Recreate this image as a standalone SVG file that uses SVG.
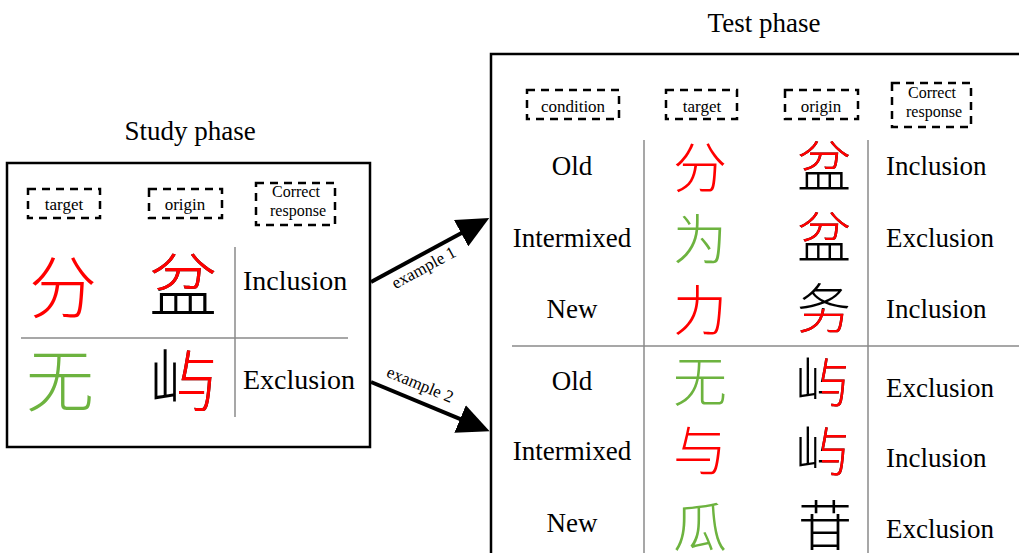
<svg xmlns="http://www.w3.org/2000/svg" width="1019" height="553" viewBox="0 0 1019 553">
<style>
.box{fill:#fff;stroke:#000;stroke-width:2.5}
.dash{fill:none;stroke:#000;stroke-width:2.5;stroke-dasharray:8 6}
.grid{stroke:#8a8a8a;stroke-width:1.5}
.t{font-family:"Liberation Serif","Times New Roman",serif;fill:#000}
.title{font-size:27px;text-anchor:middle}
.lab{font-size:17px;text-anchor:middle}
.cr{font-size:16px;text-anchor:middle}
.big{font-size:28px}
.mid{font-size:27px}
.ex{font-size:17px;text-anchor:middle}
.cjk{font-family:"Noto Sans CJK SC","Noto Sans CJK TC",sans-serif;font-weight:300;text-anchor:middle}
.s1{font-size:68px}
.s2{font-size:54px}
.red{fill:#ff0000}
.green{fill:#6db33f}
.blk{fill:#000}
.arrow{stroke:#000;stroke-width:4;fill:none}
</style>
<defs>
<marker id="ah" markerUnits="userSpaceOnUse" markerWidth="32" markerHeight="30" refX="1" refY="15" orient="auto">
<path d="M0,0 L32,15 L0,30 z" fill="#000"/>
</marker>
<clipPath id="c-pen-s"><rect x="140" y="230" width="90" height="60"/></clipPath>
<clipPath id="c-yu-s"><rect x="179" y="330" width="60" height="100"/></clipPath>
<clipPath id="c-pen-t1"><rect x="790" y="130" width="70" height="42"/></clipPath>
<clipPath id="c-pen-t2"><rect x="790" y="200" width="70" height="43"/></clipPath>
<clipPath id="c-wu-t"><rect x="790" y="309" width="70" height="40"/></clipPath>
<clipPath id="c-yu-t1"><rect x="822" y="350" width="40" height="70"/></clipPath>
<clipPath id="c-yu-t2"><rect x="822" y="420" width="40" height="70"/></clipPath>
</defs>

<g id="study-phase">
<text class="t title" x="190" y="140">Study phase</text>
<rect class="box" x="7" y="163" width="363" height="284"/>
<g id="study-headers">
<rect class="dash" x="28" y="189" width="72" height="29"/>
<text class="t lab" x="64" y="210">target</text>
<rect class="dash" x="149" y="189" width="73" height="29"/>
<text class="t lab" x="185" y="210">origin</text>
<rect class="dash" x="256" y="183" width="79" height="42"/>
<text class="t cr" x="296" y="197">Correct</text>
<text class="t cr" x="298" y="216">response</text>
</g>
<g id="study-grid">
<line class="grid" x1="235" y1="247" x2="235" y2="417"/>
<line class="grid" x1="21" y1="338" x2="348" y2="338"/>
</g>
<g id="study-row1">
<text class="cjk s1 red" x="63" y="313">分</text>
<text class="cjk s1 blk" x="183" y="311">盆</text>
<text class="cjk s1 red" x="183" y="311" clip-path="url(#c-pen-s)">盆</text>
<text class="t big" x="243" y="290">Inclusion</text>
</g>
<g id="study-row2">
<text class="cjk s1 green" x="60" y="406">无</text>
<text class="cjk s1 blk" x="183" y="406">屿</text>
<text class="cjk s1 red" x="183" y="406" clip-path="url(#c-yu-s)">屿</text>
<text class="t big" x="243" y="389">Exclusion</text>
</g>
</g>

<g id="test-phase">
<text class="t title" x="764" y="32">Test phase</text>
<rect class="box" x="491" y="54" width="540" height="520"/>
<g id="test-headers">
<rect class="dash" x="527" y="90" width="92" height="29"/>
<text class="t lab" x="573" y="112">condition</text>
<rect class="dash" x="666" y="90" width="71" height="29"/>
<text class="t lab" x="702" y="112">target</text>
<rect class="dash" x="785" y="90" width="73" height="29"/>
<text class="t lab" x="821" y="112">origin</text>
<rect class="dash" x="892" y="83" width="79" height="44"/>
<text class="t cr" x="932" y="98">Correct</text>
<text class="t cr" x="934" y="117">response</text>
</g>
<g id="test-grid">
<line class="grid" x1="644" y1="140" x2="644" y2="553"/>
<line class="grid" x1="868" y1="140" x2="868" y2="553"/>
<line class="grid" x1="512" y1="346" x2="1019" y2="346"/>
</g>
<g id="test-row1">
<text class="t mid" x="572" y="175" text-anchor="middle">Old</text>
<text class="cjk s2 red" x="700" y="188">分</text>
<text class="cjk s2 blk" x="824" y="187">盆</text>
<text class="cjk s2 red" x="824" y="187" clip-path="url(#c-pen-t1)">盆</text>
<text class="t mid" x="886" y="175">Inclusion</text>
</g>
<g id="test-row2">
<text class="t mid" x="572" y="247" text-anchor="middle">Intermixed</text>
<text class="cjk s2 green" x="700" y="260">为</text>
<text class="cjk s2 blk" x="824" y="258">盆</text>
<text class="cjk s2 red" x="824" y="258" clip-path="url(#c-pen-t2)">盆</text>
<text class="t mid" x="886" y="247">Exclusion</text>
</g>
<g id="test-row3">
<text class="t mid" x="572" y="318" text-anchor="middle">New</text>
<text class="cjk s2 red" x="700" y="331">力</text>
<text class="cjk s2 blk" x="824" y="329">务</text>
<text class="cjk s2 red" x="824" y="329" clip-path="url(#c-wu-t)">务</text>
<text class="t mid" x="886" y="318">Inclusion</text>
</g>
<g id="test-row4">
<text class="t mid" x="572" y="390" text-anchor="middle">Old</text>
<text class="cjk s2 green" x="700" y="402">无</text>
<text class="cjk s2 blk" x="822" y="403">屿</text>
<text class="cjk s2 red" x="822" y="403" clip-path="url(#c-yu-t1)">屿</text>
<text class="t mid" x="886" y="397">Exclusion</text>
</g>
<g id="test-row5">
<text class="t mid" x="572" y="460" text-anchor="middle">Intermixed</text>
<text class="cjk s2 red" x="700" y="471">与</text>
<text class="cjk s2 blk" x="822" y="472">屿</text>
<text class="cjk s2 red" x="822" y="472" clip-path="url(#c-yu-t2)">屿</text>
<text class="t mid" x="886" y="467">Inclusion</text>
</g>
<g id="test-row6">
<text class="t mid" x="572" y="532" text-anchor="middle">New</text>
<text class="cjk s2 green" x="700" y="547">瓜</text>
<text class="cjk s2 blk" x="825" y="546">苷</text>
<text class="t mid" x="886" y="538">Exclusion</text>
</g>
</g>

<g id="connectors">
<line class="arrow" x1="371" y1="282" x2="462" y2="232.7" marker-end="url(#ah)"/>
<text class="t ex" transform="translate(424,268) rotate(-28.5)" x="0" y="5">example 1</text>
<line class="arrow" x1="371" y1="382" x2="461" y2="419.4" marker-end="url(#ah)"/>
<text class="t ex" transform="translate(420,385) rotate(22.5)" x="0" y="5">example 2</text>
</g>
</svg>
